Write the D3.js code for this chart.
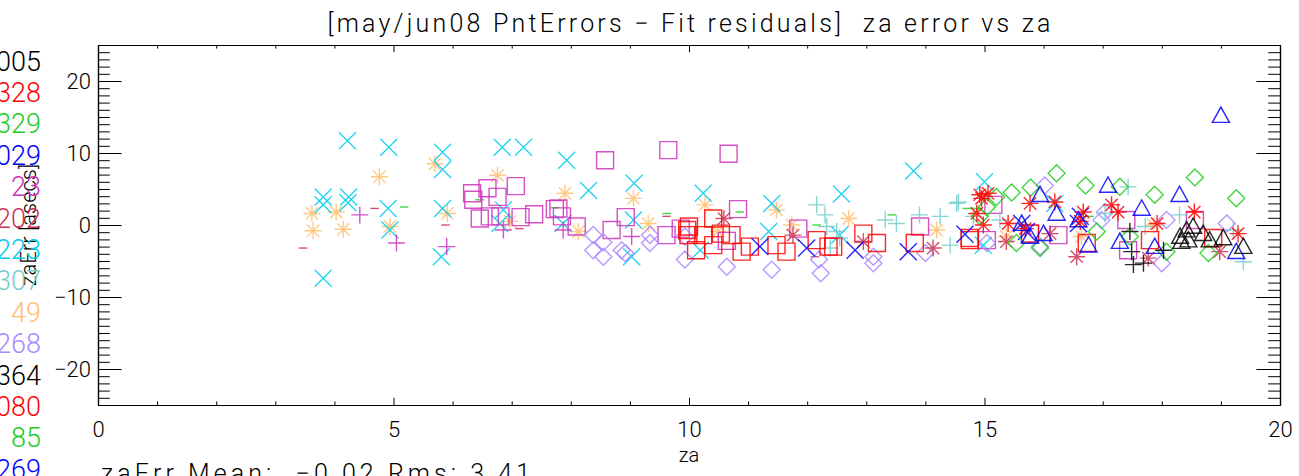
<!DOCTYPE html>
<html>
<head>
<meta charset="utf-8">
<script src="https://cdn.jsdelivr.net/npm/d3@7"></script>
<style>
  body { margin: 0; background: #fff; }
  svg text { font-family: Roboto, "DejaVu Sans", sans-serif; font-weight: 300; white-space: pre; }
</style>
</head>
<body>
<div id="chart"></div>
<script>

// legend ids down the left edge (cut off by the page edge in the original)
var legendIds = ["005", "328", "329", "029", "23", "202", "223", "307", "49", "268", "364", "080", "85", "269"];
var palette = ["#000000", "#ff0000", "#22cc22", "#0000ff", "#cc33bb", "#cc3355", "#00ccee", "#77cccc", "#ffc070", "#aa88ff"];

var xTicks = [0, 5, 10, 15, 20];
var yTicks = [-20, -10, 0, 10, 20];

// ---- data: za [deg] and zaErr [asecs] per run ----
var cyanX_za  = [3.81, 3.81, 3.81, 4.22, 4.24, 4.23, 4.92, 4.91, 4.94, 5.83, 5.83, 5.83, 5.81, 6.84, 7.20, 6.86, 6.80, 7.93, 8.30, 7.87, 9.07, 9.06, 9.03, 10.24, 10.19, 11.40, 11.35, 12.58, 12.55, 13.80, 15.00, 16.19, 14.98];
var cyanX_err = [3.9, 2.8, -7.4, 11.7, 3.9, 3.1, 10.8, 2.3, -0.7, 10.1, 7.7, 2.3, -4.4, 10.8, 10.8, 2.1, 0.2, 9.0, 4.8, 0.2, 5.8, 0.7, -4.4, 4.4, -3.5, 3.0, -0.9, 4.3, -1.4, 7.5, 6.0, 3.0, -2.8];

var orangeStar_za  = [3.62, 3.64, 4.03, 4.15, 4.76, 4.94, 5.70, 5.91, 6.76, 6.97, 7.90, 8.13, 9.06, 9.31, 10.27, 10.49, 11.48, 11.74, 12.70, 14.19, 15.37, 16.64, 17.86];
var orangeStar_err = [1.6, -0.8, 1.8, -0.6, 6.7, -0.2, 8.5, 1.6, 6.9, 0.5, 4.4, -0.9, 3.7, 0.2, 2.8, -0.9, 2.1, 0.0, 0.9, -0.7, -1.6, -1.6, 0.0];

var magentaPlus_za  = [4.43, 5.05, 5.90, 6.86, 7.87, 9.03];
var magentaPlus_err = [1.4, -2.5, -3.0, -0.7, -0.7, -1.6];

var crimsonDash_za  = [3.47, 4.68, 5.88, 7.13, 9.62, 12.13];
var crimsonDash_err = [-3.2, 2.3, 0.0, -0.5, 1.2, -4.4];

var greenDash_za  = [5.18, 6.46, 7.73, 9.62, 10.86, 12.16, 13.43, 14.70, 14.84, 16.78];
var greenDash_err = [2.5, 3.5, 2.4, 1.6, 1.8, 0.0, 1.4, 2.3, 2.3, 1.2];

var magentaSq_za  = [6.33, 6.35, 6.59, 6.76, 7.07, 6.46, 6.63, 6.81, 7.15, 7.38, 7.73, 8.58, 9.65, 10.67, 7.79, 7.85, 8.10, 8.69, 8.93, 9.62, 9.86, 10.83, 10.64, 11.85, 13.91, 15.04, 15.15, 15.77, 16.25, 17.40, 17.43, 18.56];
var magentaSq_err = [4.4, 3.5, 5.1, 3.9, 5.4, 0.9, 1.2, 1.2, 1.1, 1.5, 2.2, 9.0, 10.4, 9.9, 2.3, 1.2, -0.2, -0.7, 1.1, -1.4, -0.5, 2.2, -2.2, -0.5, -0.2, -2.1, 2.8, -1.2, -1.4, 0.7, -3.5, 0.7];

var lavDiamond_za  = [8.38, 8.38, 8.55, 8.55, 8.86, 8.92, 9.34, 9.34, 9.93, 9.93, 10.64, 11.40, 12.23, 12.20, 13.12, 13.12, 14.00, 15.04, 15.94, 16.02, 16.98, 17.04, 18.08, 19.10, 18.00];
var lavDiamond_err = [-1.4, -3.5, -2.4, -4.4, -3.5, -3.9, -1.4, -2.5, -1.6, -4.8, -5.8, -6.2, -6.7, -4.8, -4.4, -5.3, -3.9, -2.5, -3.0, 5.5, 0.7, 1.8, 0.7, 0.2, -5.3];

var redSq_za  = [9.97, 9.99, 10.00, 10.12, 10.24, 10.41, 10.41, 10.54, 10.72, 10.89, 11.03, 11.48, 11.65, 12.16, 12.36, 12.44, 12.95, 13.18, 13.82, 14.75, 14.75, 15.77, 16.73, 17.80, 18.87];
var redSq_err = [-0.7, -1.4, -0.2, -3.5, -1.4, 0.9, -2.8, -1.2, -1.4, -3.7, -3.0, -2.8, -3.7, -2.1, -3.0, -3.0, -1.2, -2.5, -2.5, -1.8, -2.1, -1.2, -2.5, -2.1, -1.8];

var crimsonStar_za  = [10.59, 11.76, 12.95, 14.13, 15.37, 16.11, 16.56, 17.77, 18.98];
var crimsonStar_err = [0.9, -1.4, -2.3, -3.2, -2.3, -1.2, -4.4, -4.6, -3.7];

var blueX_za  = [11.20, 11.99, 12.81, 13.71, 14.67, 15.63, 15.71, 16.62, 16.59];
var blueX_err = [-3.0, -3.2, -3.5, -3.7, -1.3, 0.2, -0.9, 1.2, 0.2];

var tealPlus_za  = [12.16, 12.30, 12.33, 12.39, 12.55, 12.50, 13.32, 13.51, 13.90, 14.25, 14.53, 14.56, 14.42, 14.81, 15.26, 17.04, 17.43, 17.72, 18.30, 19.21, 19.38];
var tealPlus_err = [2.8, 1.4, -0.2, -3.2, -1.8, -0.9, 0.7, 0.2, 1.4, 1.2, 3.0, 3.2, -2.8, 1.2, 0.7, 1.6, 5.3, -0.2, 1.4, -0.7, -5.1];

var redStar_za  = [14.92, 15.06, 14.98, 15.40, 15.69, 15.77, 16.19, 16.62, 16.67, 17.15, 17.26, 17.92, 18.55, 19.29, 14.87, 14.95];
var redStar_err = [4.2, 4.4, 0.0, 0.2, -0.5, 3.0, 3.2, 0.5, 1.8, 2.8, 1.8, 0.2, 1.8, -1.2, 1.6, 3.7];

var greenDiamond_za  = [14.92, 15.04, 15.20, 15.46, 15.78, 16.22, 16.71, 17.29, 17.88, 18.56, 19.26, 16.90, 15.94, 18.08, 18.79, 17.46, 15.54];
var greenDiamond_err = [1.2, 2.5, 3.9, 4.5, 5.2, 7.2, 5.5, 5.3, 4.2, 6.6, 3.7, -0.9, -3.2, -3.7, -3.9, -1.6, -2.5];

var blueTri_za  = [15.94, 16.22, 16.00, 15.63, 15.77, 16.59, 16.76, 17.09, 17.29, 17.66, 17.88, 18.30, 19.00, 19.26];
var blueTri_err = [4.2, 1.6, -1.2, 0.2, -1.6, 0.7, -2.8, 5.5, -2.3, 2.3, -3.0, 4.2, 15.2, -3.7];

var blackTri_za  = [18.31, 18.33, 18.42, 18.45, 18.53, 18.70, 18.81, 19.04, 19.38];
var blackTri_err = [-1.6, -2.3, -0.7, -2.1, -0.2, -1.2, -2.1, -1.8, -3.0];

var blackPlus_za  = [17.46, 17.49, 17.52, 17.69, 18.03];
var blackPlus_err = [-0.9, -3.7, -5.5, -5.3, -3.5];

var series = [
  {color: palette[8], sym: "star",    za: orangeStar_za,   err: orangeStar_err},
  {color: palette[6], sym: "x",       za: cyanX_za,        err: cyanX_err},
  {color: palette[4], sym: "plus",    za: magentaPlus_za,  err: magentaPlus_err},
  {color: palette[5], sym: "dash",    za: crimsonDash_za,  err: crimsonDash_err},
  {color: palette[2], sym: "dash",    za: greenDash_za,    err: greenDash_err},
  {color: palette[4], sym: "square",  za: magentaSq_za,    err: magentaSq_err},
  {color: palette[9], sym: "diamond", za: lavDiamond_za,   err: lavDiamond_err},
  {color: palette[7], sym: "plus",    za: tealPlus_za,     err: tealPlus_err},
  {color: palette[1], sym: "square",  za: redSq_za,        err: redSq_err},
  {color: palette[5], sym: "star",    za: crimsonStar_za,  err: crimsonStar_err},
  {color: palette[3], sym: "x",       za: blueX_za,        err: blueX_err},
  {color: palette[2], sym: "diamond", za: greenDiamond_za, err: greenDiamond_err},
  {color: palette[1], sym: "star",    za: redStar_za,      err: redStar_err},
  {color: palette[3], sym: "triangle",za: blueTri_za,      err: blueTri_err},
  {color: palette[0], sym: "plus",    za: blackPlus_za,    err: blackPlus_err},
  {color: palette[0], sym: "triangle",za: blackTri_za,     err: blackTri_err}
];

// ---- layout ----
var W = 1299, H = 476;
var margin = {top: 45, right: 19, bottom: 71, left: 98},
    width = W - margin.left - margin.right,
    height = H - margin.top - margin.bottom;

var svg = d3.select("#chart")
  .append("svg")
    .attr("width", W)
    .attr("height", H);

var plot = svg.append("g")
    .attr("transform", "translate(" + margin.left + "," + margin.top + ")");

var x = d3.scaleLinear().domain([0, 20]).range([0, width]);
var y = d3.scaleLinear().domain([-25, 25]).range([height, 0]);

// tick lengths like IDL: fraction of the plot size
var xMajor = 0.02 * height, yMajor = 0.02 * width;
var xMinorVals = d3.range(0, 21).filter(function(d) { return d % 5 != 0; });
var yMinorVals = d3.range(-25, 26).filter(function(d) { return d % 10 != 0; });

function styleAxis(g) {
  g.selectAll("path").attr("stroke", "#000").attr("stroke-width", 1.2);
  g.selectAll("line").attr("stroke", "#000").attr("stroke-width", 1);
  g.selectAll("text").attr("fill", "#000").style("font-size", "22px").attr("font-family", null);
}

// bottom
plot.append("g").attr("transform", "translate(0," + height + ")")
  .call(d3.axisBottom(x).tickValues(xTicks).tickSize(-xMajor).tickSizeOuter(0).tickPadding(16).tickFormat(d3.format("d")))
  .call(styleAxis);
plot.append("g").attr("transform", "translate(0," + height + ")")
  .call(d3.axisBottom(x).tickValues(xMinorVals).tickSize(-xMajor / 2).tickSizeOuter(0).tickFormat(""))
  .call(styleAxis);
// top
plot.append("g")
  .call(d3.axisTop(x).tickValues(xTicks).tickSize(-xMajor).tickSizeOuter(0).tickFormat(""))
  .call(styleAxis);
plot.append("g")
  .call(d3.axisTop(x).tickValues(xMinorVals).tickSize(-xMajor / 2).tickSizeOuter(0).tickFormat(""))
  .call(styleAxis);
// left
plot.append("g")
  .call(d3.axisLeft(y).tickValues(yTicks).tickSize(-yMajor).tickSizeOuter(0).tickPadding(7)
    .tickFormat(function(d) { return d < 0 ? "\u2212" + Math.abs(d) : d; }))
  .call(styleAxis);
plot.append("g")
  .call(d3.axisLeft(y).tickValues(yMinorVals).tickSize(-yMajor / 2).tickSizeOuter(0).tickFormat(""))
  .call(styleAxis);
// right
plot.append("g").attr("transform", "translate(" + width + ",0)")
  .call(d3.axisRight(y).tickValues(yTicks).tickSize(-yMajor).tickSizeOuter(0).tickFormat(""))
  .call(styleAxis);
plot.append("g").attr("transform", "translate(" + width + ",0)")
  .call(d3.axisRight(y).tickValues(yMinorVals).tickSize(-yMajor / 2).tickSizeOuter(0).tickFormat(""))
  .call(styleAxis);

// ---- plot symbols (IDL psym style) ----
var r = 8.5;
function symbolPath(sym) {
  var k = r * 0.72;
  switch (sym) {
    case "plus":     return "M" + -r + ",0H" + r + "M0," + -r + "V" + r;
    case "x":        return "M" + -r + "," + -r + "L" + r + "," + r + "M" + -r + "," + r + "L" + r + "," + -r;
    case "star":     return "M" + -r + ",0H" + r + "M0," + -r + "V" + r +
                            "M" + -k + "," + -k + "L" + k + "," + k + "M" + -k + "," + k + "L" + k + "," + -k;
    case "diamond":  return "M0," + -r + "L" + r + ",0L0," + r + "L" + -r + ",0Z";
    case "triangle": return "M" + -r + "," + (r * 0.8) + "H" + r + "L0," + -r + "Z";
    case "square":   return "M" + -r + "," + -r + "H" + r + "V" + r + "H" + -r + "Z";
    case "dash":     return "M" + (-r / 2) + ",0H" + (r / 2);
  }
}

series.forEach(function(s) {
  var pts = s.za.map(function(d, i) { return {za: d, err: s.err[i]}; });
  plot.append("g").selectAll("path")
    .data(pts)
    .enter()
    .append("path")
      .attr("transform", function(d) { return "translate(" + x(d.za) + "," + y(d.err) + ")"; })
      .attr("d", symbolPath(s.sym))
      .attr("fill", "none")
      .attr("stroke", s.color)
      .attr("stroke-width", 1.4)
      .attr("stroke-opacity", 0.85);
});

// ---- texts ----
svg.append("text")
  .attr("x", margin.left + width / 2)
  .attr("y", 32)
  .attr("text-anchor", "middle")
  .attr("textLength", 723)
  .style("font-size", "25px")
  .text("[may/jun08 PntErrors \u2212 Fit residuals]  za error vs za");

svg.append("text")
  .attr("x", margin.left + width / 2)
  .attr("y", 462)
  .attr("text-anchor", "middle")
  .style("font-size", "20px")
  .text("za");

svg.append("text")
  .attr("transform", "translate(36," + (margin.top + height / 2) + ") rotate(-90)")
  .attr("text-anchor", "middle")
  .style("font-size", "22px")
  .text("zaErr [asecs]");

svg.append("text")
  .attr("x", 101)
  .attr("y", 482)
  .attr("textLength", 429)
  .style("font-size", "25px")
  .text("zaErr Mean:  \u22120.02 Rms: 3.41");

// legend ids
svg.append("g").selectAll("text")
  .data(legendIds)
  .enter()
  .append("text")
    .attr("x", 41)
    .attr("y", function(d, i) { return 61 + 31.4 * i + 9.5; })
    .attr("text-anchor", "end")
    .style("font-size", "27px")
    .attr("fill", function(d, i) { return palette[i % palette.length]; })
    .text(function(d) { return d; });

</script>
</body>
</html>
